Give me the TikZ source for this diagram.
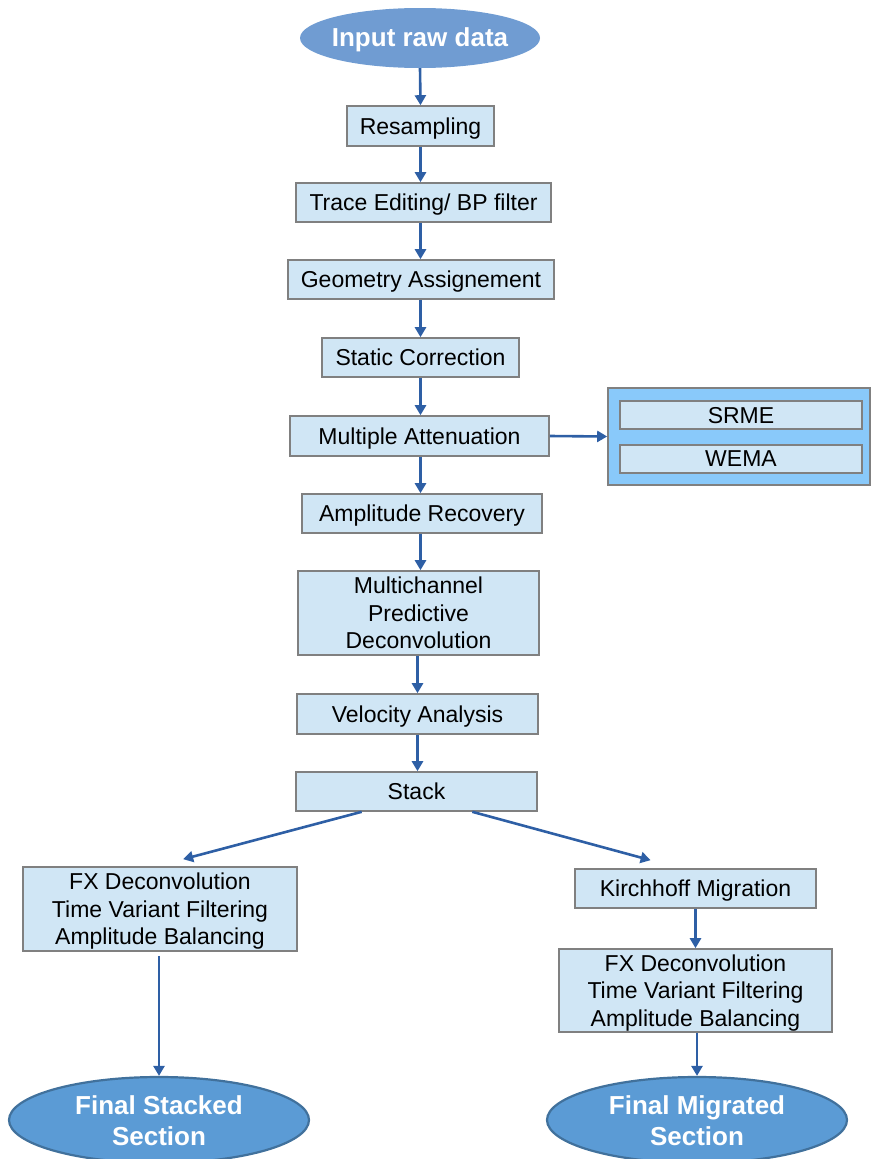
\documentclass[tikz,border=0pt]{standalone}
\usepackage{fontspec}
\setmainfont{Liberation Sans}
\usetikzlibrary{arrows.meta,shapes.geometric,calc}
\definecolor{boxfill}{RGB}{208,230,245}
\definecolor{boxline}{RGB}{128,128,128}
\definecolor{arrowc}{RGB}{46,95,165}
\definecolor{topell}{RGB}{112,156,210}
\definecolor{botell}{RGB}{91,155,213}
\definecolor{botline}{RGB}{65,113,156}
\definecolor{groupfill}{RGB}{137,201,250}
\begin{document}
\begin{tikzpicture}[x=1pt,y=-1pt,
  proc/.style={draw=boxline, line width=1.6pt, fill=boxfill, font=\fontsize{23}{27.5}\selectfont, align=center, inner sep=0pt, text depth=0pt},
  grp/.style={draw=boxline, line width=1.6pt, fill=groupfill, inner sep=0pt},
  topel/.style={ellipse, fill=topell, inner sep=0pt, minimum width=240pt, minimum height=60pt},
  botel/.style={ellipse, draw=botline, line width=2.2pt, fill=botell, inner sep=0pt, minimum width=300pt, minimum height=86pt},
  eltext/.style={font=\fontsize{26}{31}\selectfont\bfseries, text=white, align=center},
  arr/.style={draw=arrowc, line width=2.6pt, -{Triangle[width=11pt,length=10pt]}}]
\useasboundingbox (0,0) rectangle (871,1159);

\node[topel] (in) at (420,38) {};
\node[eltext] (intxt) at (420,40) {Input raw data};

\node[proc, minimum width=147pt, minimum height=40pt] (res) at (420.5,126) {Resampling};
\node[proc, minimum width=255pt, minimum height=39pt] (trace) at (423.5,202.5) {Trace Editing/ BP filter};
\node[proc, minimum width=266pt, minimum height=39pt] (geom) at (421,279.5) {Geometry Assignement};
\node[proc, minimum width=197pt, minimum height=39pt] (stat) at (420.5,357.5) {Static Correction};
\node[proc, minimum width=259pt, minimum height=40pt] (mult) at (419.5,436) {Multiple Attenuation};
\node[proc, minimum width=240pt, minimum height=39pt] (amp) at (422,513.5) {Amplitude Recovery};
\node[proc, minimum width=241pt, minimum height=84pt] (mpd) at (418.5,613) {Multichannel\\Predictive\\Deconvolution};
\node[proc, minimum width=241pt, minimum height=40pt] (vel) at (417.5,714) {Velocity Analysis};
\node[proc, minimum width=241pt, minimum height=39pt] (stack) at (416.5,791.5) {Stack};

\node[grp, minimum width=262pt, minimum height=97pt] (grp) at (739,436.5) {};
\node[proc, minimum width=242pt, minimum height=28pt] (srme) at (741,415) {SRME};
\node[proc, minimum width=242pt, minimum height=28pt] (wema) at (741,459) {WEMA};

\node[proc, minimum width=274pt, minimum height=84pt] (lfx) at (160,909) {FX Deconvolution\\Time Variant Filtering\\Amplitude Balancing};
\node[proc, minimum width=241pt, minimum height=39pt] (kir) at (695.5,888.5) {Kirchhoff Migration};
\node[proc, minimum width=273pt, minimum height=83pt] (rfx) at (695.5,990.5) {FX Deconvolution\\Time Variant Filtering\\Amplitude Balancing};

\node[botel] (lel) at (159,1120) {};
\node[eltext] (leltxt) at (159,1121) {Final Stacked\\Section};
\node[botel] (rel) at (697,1120) {};
\node[eltext] (reltxt) at (697,1121) {Final Migrated\\Section};

\draw[arr] (in.south) -- (res.north);
\draw[arr] (res.south) -- (res.south |- trace.north);
\draw[arr] (res.south |- trace.south) -- (res.south |- geom.north);
\draw[arr] (res.south |- geom.south) -- (res.south |- stat.north);
\draw[arr] (res.south |- stat.south) -- (res.south |- mult.north);
\draw[arr] (res.south |- mult.south) -- (res.south |- amp.north);
\draw[arr] (res.south |- amp.south) -- (res.south |- mpd.north);
\draw[arr] (mpd.south -| vel.north) -- (vel.north);
\draw[arr] (vel.south) -- (vel.south |- stack.north);
\draw[arr] (mult.east) -- (grp.west);

\coordinate (sl) at ($(stack.south west)!0.274!(stack.south east)$);
\coordinate (sr) at ($(stack.south west)!0.73!(stack.south east)$);
\coordinate (lt) at ($(lfx.north west)!0.584!(lfx.north east)+(0,-7)$);
\coordinate (rt) at ($(kir.north west)!0.315!(kir.north east)+(0,-8)$);
\draw[arr] (sl) -- (lt);
\draw[arr] (sr) -- (rt);

\coordinate (lfxb) at ($(lel.north |- lfx.south)+(0,4)$);
\draw[arr] (lfxb) -- (lel.north);
\draw[arr] (kir.south) -- (kir.south |- rfx.north);
\draw[arr] (rfx.south -| rel.north) -- (rel.north);
\end{tikzpicture}
\end{document}
